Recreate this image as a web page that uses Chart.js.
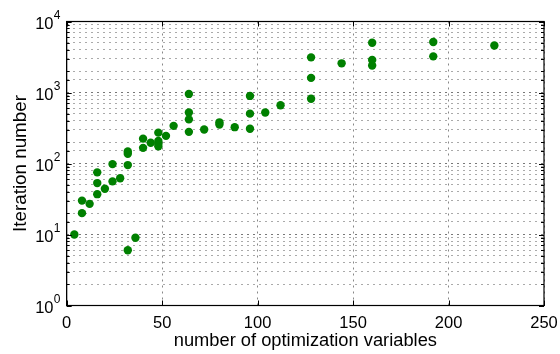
<!DOCTYPE html>
<html>
<head>
<meta charset="utf-8">
<script src="https://cdn.jsdelivr.net/npm/chart.js@4/dist/chart.umd.min.js"></script>
<style>
  body { margin: 0; background: #fff; }
  canvas { display: block; }
</style>
</head>
<body>
<canvas id="myChart" width="560" height="354"></canvas>
<script>
let varCounts  = [4, 8, 8, 12, 16, 16, 16, 20, 24, 24, 28, 32, 32, 32, 32, 36, 40, 40, 44, 48, 48, 48, 48, 52, 56,
                  64, 64, 64, 64, 72, 80, 80, 88, 96, 96, 96, 104, 112, 128, 128, 128, 144, 160, 160, 160, 192, 192, 224];
let iterations = [10, 30, 20, 27, 75, 53, 37, 44, 98, 56, 62, 148, 137, 95, 6, 9, 224, 166, 196, 272, 208, 190, 175, 245, 339,
                  955, 524, 418, 279, 301, 380, 355, 325, 895, 504, 309, 524, 660, 3126, 1607, 815, 2575, 5030, 2880, 2400, 5140, 3230, 4600];
let xTicks = [0, 50, 100, 150, 200, 250];
let yDecades = [1, 10, 100, 1000, 10000];

let font = "'Liberation Sans', Arial, sans-serif";
let isDecade = (v) => Math.abs(Math.log10(v) - Math.round(Math.log10(v))) < 1e-9;

// matlab style box, inward ticks and 10^n labels
let matlabAxes = {
  id: 'matlabAxes',
  afterDraw(chart) {
    let ctx = chart.ctx;
    let a = chart.chartArea;
    let x = chart.scales.x, y = chart.scales.y;
    ctx.save();
    ctx.strokeStyle = '#000';
    ctx.lineWidth = 1;
    ctx.beginPath();
    x.ticks.forEach(t => {
      let px = Math.round(x.getPixelForValue(t.value)) + 0.5;
      ctx.moveTo(px, a.bottom); ctx.lineTo(px, a.bottom - 5);
      ctx.moveTo(px, a.top); ctx.lineTo(px, a.top + 5);
    });
    y.ticks.forEach(t => {
      let py = Math.round(y.getPixelForValue(t.value)) + 0.5;
      let len = isDecade(t.value) ? 5 : 3;
      ctx.moveTo(a.left, py); ctx.lineTo(a.left + len, py);
      ctx.moveTo(a.right, py); ctx.lineTo(a.right - len, py);
    });
    ctx.stroke();
    ctx.lineWidth = 1.2;
    ctx.strokeRect(a.left, a.top, a.right - a.left, a.bottom - a.top);

    ctx.fillStyle = '#000';
    ctx.textBaseline = 'alphabetic';
    yDecades.forEach(v => {
      let py = y.getPixelForValue(v);
      ctx.textAlign = 'right';
      ctx.font = '16.5px ' + font;
      ctx.fillText('10', 53.5, py + 7.8);
      ctx.textAlign = 'left';
      ctx.font = '12px ' + font;
      ctx.fillText(String(Math.round(Math.log10(v))), 53.8, py - 2.4);
    });
    ctx.restore();
  }
};

let ctx = document.getElementById('myChart').getContext('2d');

let myChart = new Chart(ctx, {
  type: 'scatter',
  data: {
    datasets: [{
      data: varCounts.map((v, i) => ({x: v, y: iterations[i]})),
      backgroundColor: '#008000',
      borderWidth: 0,
      pointRadius: 4.2,
      pointHoverRadius: 4.2
    }]
  },
  options: {
    responsive: false,
    animation: false,
    devicePixelRatio: 1,
    layout: {
      padding: {left: 0, top: 21.5, right: 16, bottom: 0}
    },
    plugins: {
      legend: {display: false},
      tooltip: {enabled: false}
    },
    scales: {
      x: {
        type: 'linear',
        min: 0,
        max: 250,
        afterBuildTicks: (scale) => {
          scale.ticks = xTicks.map(v => ({value: v}));
        },
        afterFit: (scale) => {
          scale.height = 48.5;
          scale.paddingLeft = 0;
          scale.paddingRight = 0;
        },
        ticks: {
          autoSkip: false,
          maxRotation: 0,
          padding: 8,
          color: '#000',
          font: {family: font, size: 16.5}
        },
        grid: {
          color: '#888',
          lineWidth: 1,
          drawTicks: false
        },
        border: {
          display: true,
          color: '#000',
          width: 1,
          dash: [2, 4]
        },
        title: {
          display: true,
          text: 'number of optimization variables',
          color: '#000',
          font: {family: font, size: 18.3},
          padding: {top: 0, bottom: 2.5}
        }
      },
      y: {
        type: 'logarithmic',
        min: 1,
        max: 10000,
        afterFit: (scale) => {
          scale.width = 66.7;
          scale.paddingTop = 0;
          scale.paddingBottom = 0;
        },
        ticks: {
          display: false,
          autoSkip: false
        },
        grid: {
          color: (c) => (c.tick && isDecade(c.tick.value)) ? '#777' : '#aaa',
          lineWidth: 1,
          drawTicks: false
        },
        border: {
          display: true,
          color: '#000',
          width: 1,
          dash: [2, 4]
        },
        title: {
          display: true,
          text: 'Iteration number',
          color: '#000',
          font: {family: font, size: 18.8},
          padding: {top: 9.5, bottom: 0}
        }
      }
    }
  },
  plugins: [matlabAxes]
});
</script>
</body>
</html>
